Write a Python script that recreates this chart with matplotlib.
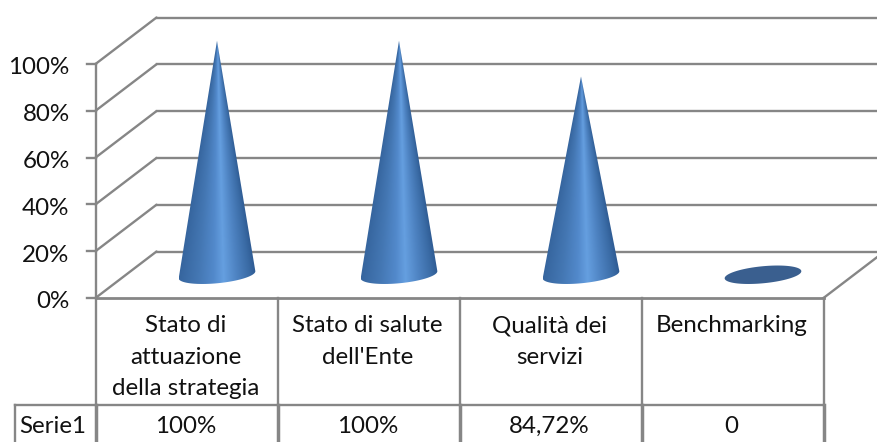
import numpy as np
import matplotlib
matplotlib.use("Agg")
import matplotlib.pyplot as plt
from matplotlib.colors import LinearSegmentedColormap
from matplotlib.patches import Polygon

categories = ["Stato di\nattuazione\ndella strategia", "Stato di salute\ndell'Ente", "Qualità dei\nservizi", "Benchmarking"]
values = [100, 100, 84.72, 0]
value_labels = ["100%", "100%", "84,72%", "0"]
series_name = "Serie1"
y_ticks = [0, 20, 40, 60, 80, 100]

W, H = 877, 442
X0, Y0 = 95.5, 298.0      # pixel position of category 0 / value 0
CAT_W = 182.0             # pixels per category
PCT_H = 2.34              # pixels per percent
GREY = "#868686"
TEXT = "#111111"
FS = 17.4

plt.rcParams["font.family"] = ["Lato", "DejaVu Sans"]

fig = plt.figure(figsize=(W / 100, H / 100), dpi=100)
ax = fig.add_axes([0, 0, 1, 1])
ax.axis("off")

# depth of the 3d box in data units
dx = 61.0 / CAT_W
dy = 46.5 / PCT_H
lw = 1.7
n = len(categories)

# back wall and side wall lines
for t in y_ticks:
    ax.plot([0, dx], [t, t + dy], color=GREY, lw=lw, solid_capstyle="round")
    ax.plot([dx, 5], [t + dy, t + dy], color=GREY, lw=lw)
    ax.plot([-8.5 / CAT_W, 0], [t, t], color=GREY, lw=lw)
    ax.text(-26 / CAT_W, t - 1.7, f"{t}%", ha="right", va="center", fontsize=FS, color=TEXT)
ax.plot([n, n + dx], [0, dy], color=GREY, lw=lw)
ax.plot([0, n], [0, 0], color=GREY, lw=lw + 0.3)
ax.plot([0, 0], [0, 100], color=GREY, lw=lw)

# data table under the plot
row1 = -107 / PCT_H
bottom = (Y0 - H) / PCT_H
ax.plot([-80.5 / CAT_W, n], [row1, row1], color=GREY, lw=lw)
ax.plot([-80.5 / CAT_W, -80.5 / CAT_W], [row1, bottom], color=GREY, lw=lw)
for i in range(n + 1):
    ax.plot([i, i], [0, row1], color=GREY, lw=lw)
    ax.plot([i, i], [row1, bottom], color=GREY, lw=lw + 0.8)
ax.text(-42.5 / CAT_W, row1 - 21.5 / PCT_H, series_name, ha="center", va="center", fontsize=FS, color=TEXT)
for i in range(n):
    ax.text(i + 0.495, -17.5 / PCT_H, categories[i], ha="center", va="top", fontsize=FS,
            color=TEXT, linespacing=1.6)
    ax.text(i + 0.495, row1 - 21.5 / PCT_H, value_labels[i], ha="center", va="center", fontsize=FS, color=TEXT)

# cones: shading narrows towards the apex, clipped to the cone outline
cone_cmap = LinearSegmentedColormap.from_list(
    "cone", [(0.0, "#36659e"), (0.25, "#4477b3"), (0.45, "#5289cb"), (0.58, "#659fe0"),
             (0.75, "#4e83c2"), (0.92, "#3a6ba5"), (1.0, "#2f5c94")])
a = 38.5 / CAT_W
tilt = np.radians(5.5)


def rim(cx, cy, angle):
    # tilted ellipse, rotated in pixel space so it keeps its shape
    px = 38.5 * np.cos(angle) * np.cos(tilt) - 8.5 * np.sin(angle) * np.sin(tilt)
    py = 38.5 * np.cos(angle) * np.sin(tilt) + 8.5 * np.sin(angle) * np.cos(tilt)
    return cx + px / CAT_W, cy + py / PCT_H


for i in range(n):
    cx = i + 0.5 + dx / 2
    cy = dy / 2
    if values[i] == 0:
        ex, ey = rim(cx, cy, np.linspace(0, 2 * np.pi, 200))
        ax.add_patch(Polygon(np.c_[ex, ey], closed=True, fc="#3a5f8f", ec="none", zorder=3))
        continue
    ex, ey = rim(cx, cy, np.linspace(np.pi, 2 * np.pi, 100))
    apex = (cx, cy + values[i])
    outline = Polygon([apex] + list(zip(ex, ey)), closed=True, fc="none", ec="none", zorder=3)
    ax.add_patch(outline)

    # colour each cell by its position across the cone's width at that height
    low = ey.min()
    xs = np.linspace(cx - a, cx + a, 300)
    ys = np.linspace(low, apex[1], 500)
    gx, gy = np.meshgrid(xs, ys)
    half = np.maximum(a * (apex[1] - gy) / (apex[1] - cy), 1e-4)
    frac = np.clip((gx - cx) / half / 2 + 0.5, 0, 1)
    im = ax.imshow(cone_cmap(frac), origin="lower", aspect="auto", zorder=3,
                   extent=[cx - a, cx + a, low, apex[1]], interpolation="bilinear")
    im.set_clip_path(outline)

ax.set_xlim(-X0 / CAT_W, (W - X0) / CAT_W)
ax.set_ylim((Y0 - H) / PCT_H, Y0 / PCT_H)

fig.savefig("out.png", dpi=100)
